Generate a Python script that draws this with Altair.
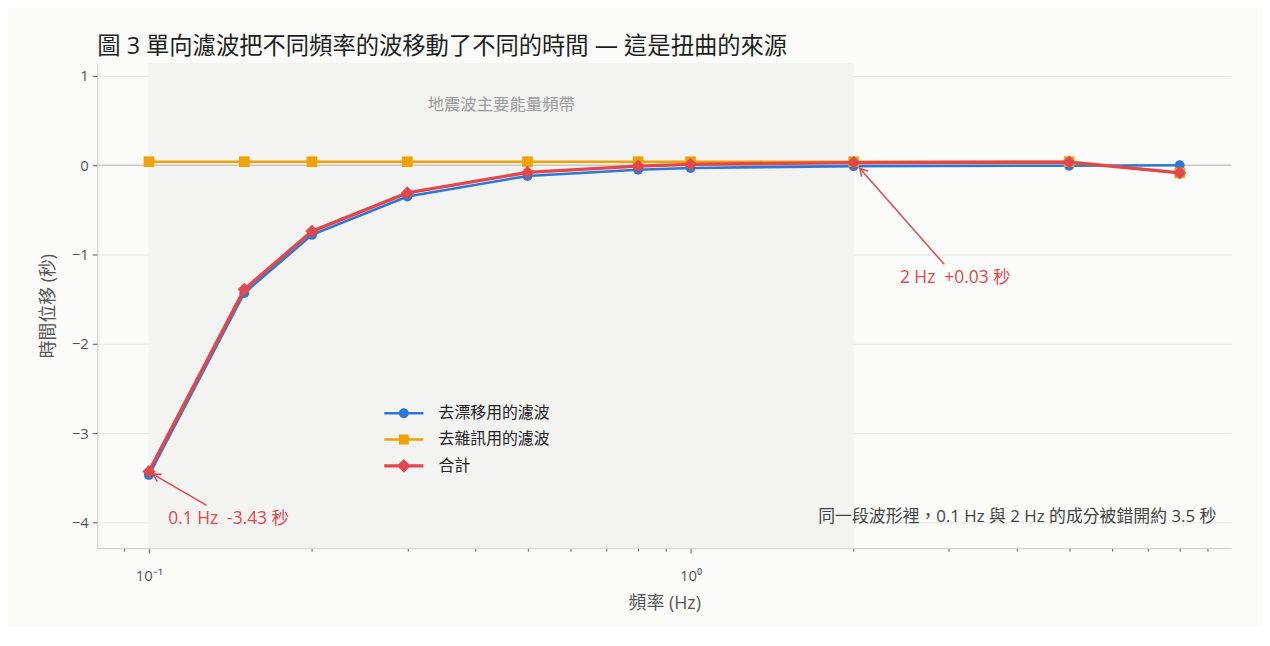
import altair as alt
import pandas as pd

# data
freq = [0.1, 0.15, 0.2, 0.3, 0.5, 0.8, 1.0, 2.0, 5.0, 8.0]
drift = [-3.47, -1.43, -0.78, -0.35, -0.12, -0.05, -0.03, -0.01, -0.005, 0.0]
noise = [0.04, 0.04, 0.04, 0.04, 0.04, 0.04, 0.04, 0.04, 0.04, -0.085]
total = [-3.43, -1.39, -0.74, -0.31, -0.08, -0.01, 0.01, 0.03, 0.035, -0.085]

names = ["去漂移用的濾波", "去雜訊用的濾波", "合計"]
colors = ["#2b78d8", "#f0a202", "#e2474b"]

band = [0.1, 2.0]
band_text = "地震波主要能量頻帶"

# annotations: text position, arrow start, arrow tip
ann_text = ["0.1 Hz\u00a0\u00a0-3.43 秒", "2 Hz\u00a0\u00a0+0.03 秒"]
ann_x = [0.1403, 3.08]
ann_y = [-3.967, -1.267]
arr_x0 = [0.1278, 2.94]
arr_y0 = [-3.81, -1.11]
arr_x1 = [0.1017, 2.053]
arr_y1 = [-3.46, -0.033]
arr_ang = [300, 319]

note = "同一段波形裡，0.1 Hz 與 2 Hz 的成分被錯開約 3.5 秒"
note_x = [9.35]
note_y = [-3.944]

FONT = "'Open Sans', 'Noto Sans CJK TC', sans-serif"

major = "datum.value == 0.1 || datum.value == 1"
x_ticks = [0.09] + [0.1 * i for i in range(1, 10)] + [float(i) for i in range(1, 10)]
x_ticks[1] = 0.1
x_ticks[10] = 1.0

xscale = alt.Scale(type="log", domain=[0.0803, 9.96])
yscale = alt.Scale(domain=[-4.289, 1.145])

xaxis = alt.Axis(
    title="頻率 (Hz)", values=x_ticks,
    labelExpr="datum.value == 0.1 ? '10⁻¹' : datum.value == 1 ? '10⁰' : ''",
    tickSize={"condition": {"test": major, "value": 5}, "value": 3},
    gridOpacity={"condition": {"test": major, "value": 1}, "value": 0},
    labelPadding=16, titlePadding=11,
)
yaxis = alt.Axis(title="時間位移 (秒)", values=[-4, -3, -2, -1, 0, 1],
                 tickSize=5, labelPadding=4, titlePadding=14)


def X(f):
    return alt.X(f, type="quantitative", scale=xscale, axis=xaxis)


def Y(f):
    return alt.Y(f, type="quantitative", scale=yscale, axis=yaxis)


band_df = pd.DataFrame({"x0": [band[0]], "x1": [band[1]],
                        "xm": [(band[0] * band[1]) ** 0.5], "ym": [0.678],
                        "t": [band_text]})
shade = alt.Chart(band_df).mark_rect(color="#f3f3f2").encode(
    x=X("x0"), x2="x1")
shade_label = alt.Chart(band_df).mark_text(
    fontSize=16.5, color="#999999", font=FONT).encode(x=X("xm"), y=Y("ym"), text="t:N")

zero = alt.Chart(pd.DataFrame({"v": [0]})).mark_rule(
    color="#c9c9c3", strokeWidth=1.5).encode(y=Y("v"))

series = [drift, noise, total]
shapes = ["circle", "square", "diamond"]
sizes = [100, 115, 175]
widths = [2.6, 2.6, 3.4]
layers = [shade, shade_label, zero]
for name, vals, col, shp, sz, w in zip(names, series, colors, shapes, sizes, widths):
    d = pd.DataFrame({"freq": freq, "value": vals, "series": name})
    base = alt.Chart(d)
    layers.append(base.mark_line(color=col, strokeWidth=w).encode(x=X("freq"), y=Y("value")))
    layers.append(base.mark_point(shape=shp, filled=True, color=col, size=sz, opacity=1)
                  .encode(x=X("freq"), y=Y("value")))

# legend entries: line with marker, drawn by the legend itself
bar = "M-3.6,-0.22H3.6V0.22H-3.6Z"
paths = [
    bar + "M0.9,0A0.9,0.9,0,1,1,-0.9,0A0.9,0.9,0,1,1,0.9,0Z",
    bar + "M-0.9,-0.9H0.9V0.9H-0.9Z",
    "M-3.6,-0.3H3.6V0.3H-3.6Z" + "M0,-1.25L1.25,0L0,1.25L-1.25,0Z",
]
leg = dict(orient="none", legendX=301, legendY=345, title=None,
           labelFontSize=16, labelColor="#222222", labelFont=FONT,
           symbolSize=121, symbolStrokeWidth=0, labelOffset=27, rowPadding=10.5)
leg_df = pd.DataFrame({"freq": freq[:3], "value": [0, 0, 0], "series": names})
legend_layer = alt.Chart(leg_df).transform_filter("false").mark_point(
    filled=True, opacity=1).encode(
    x=X("freq"), y=Y("value"),
    color=alt.Color("series:N", scale=alt.Scale(domain=names, range=colors),
                    legend=alt.Legend(**leg)),
    shape=alt.Shape("series:N", scale=alt.Scale(domain=names, range=paths),
                    legend=alt.Legend(**leg)),
)
layers.append(legend_layer)

arr_df = pd.DataFrame({"x0": arr_x0, "y0": arr_y0, "x1": arr_x1, "y1": arr_y1,
                       "ang": arr_ang, "tx": ann_x, "ty": ann_y, "t": ann_text})
arrows = alt.Chart(arr_df).mark_rule(color="#e2474b", strokeWidth=1.5).encode(
    x=X("x0"), y=Y("y0"), x2="x1", y2="y1")
heads = alt.Chart(arr_df).mark_point(
    shape="M-0.6,1.1L0,0L0.6,1.1", filled=False, color="#e2474b",
    strokeWidth=1.5, size=196, opacity=1).encode(
    x=X("x1"), y=Y("y1"), angle=alt.Angle("ang:Q", scale=None))
ann = alt.Chart(arr_df).mark_text(
    fontSize=17.5, color="#e2474b", font=FONT).encode(x=X("tx"), y=Y("ty"), text="t:N")
layers += [arrows, heads, ann]

note_df = pd.DataFrame({"x": note_x, "y": note_y, "t": [note]})
layers.append(alt.Chart(note_df).mark_text(
    fontSize=17, color="#444444", align="right", font=FONT).encode(
    x=X("x"), y=Y("y"), text="t:N"))

chart = alt.layer(*layers).properties(
    width=1143, height=489,
    padding={"left": 31, "top": 24, "right": 30, "bottom": 12},
    title=alt.TitleParams(
        "圖 3 單向濾波把不同頻率的波移動了不同的時間 — 這是扭曲的來源",
        anchor="start", frame="group", fontSize=23.5, fontWeight="normal",
        color="#1e1e1e", font=FONT, offset=5),
).configure(background="#fbfbf9").configure_view(stroke=None).configure_axis(
    labelFont=FONT, titleFont=FONT, labelFontSize=15, titleFontSize=18,
    labelColor="#555555", titleColor="#555555", titleFontWeight="normal",
    domainColor="#c8c8c8", tickColor="#555555", gridColor="#e6e6e6",
)

chart.save("out.html", embed_options={"renderer": "svg", "actions": False})
